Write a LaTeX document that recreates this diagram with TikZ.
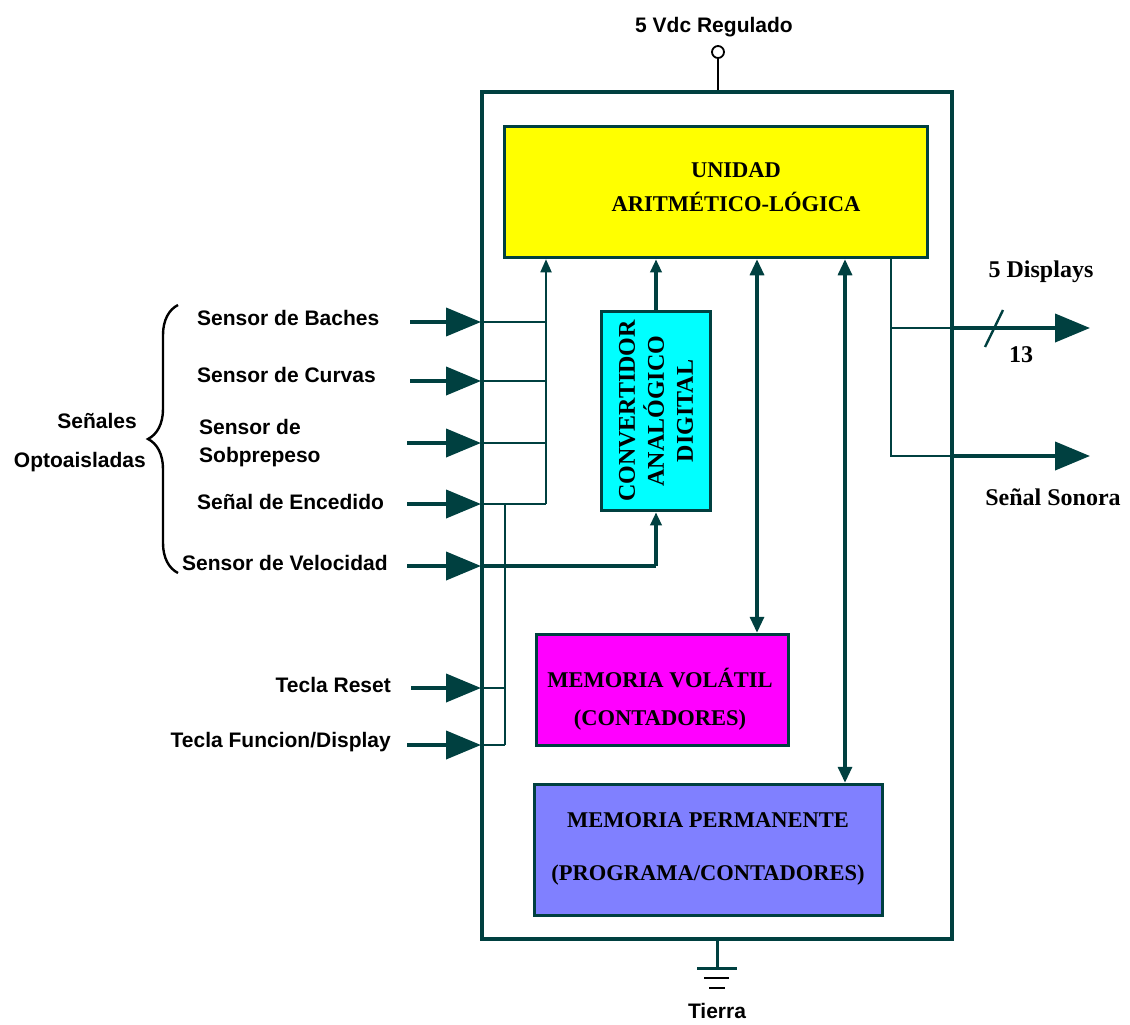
\documentclass[tikz,border=0pt]{standalone}
\usepackage{fontspec}
\setmainfont{Liberation Serif}
\setsansfont{Liberation Sans}
\usetikzlibrary{arrows.meta,decorations.pathreplacing}
\definecolor{wire}{RGB}{0,64,64}
\definecolor{aluyellow}{RGB}{255,255,0}
\definecolor{adccyan}{RGB}{0,255,255}
\definecolor{volmagenta}{RGB}{255,0,255}
\definecolor{permblue}{RGB}{128,128,255}
\begin{document}
\begin{tikzpicture}[x=1pt,y=-1pt,
  block/.style={draw=wire, line width=3.5pt, inner sep=0pt},
  blocktxt/.style={font=\fontsize{22.5}{34}\selectfont\bfseries, align=center, inner sep=0pt},
  sidetxt/.style={font=\sffamily\bfseries\fontsize{21}{28}\selectfont, inner sep=0pt, text height=15pt, text depth=4pt},
  outtxt/.style={font=\bfseries\fontsize{24}{28}\selectfont, inner sep=0pt},
  thinwire/.style={draw=wire, line width=1.8pt},
  buswire/.style={draw=wire, line width=3.2pt},
  inwire/.style={draw=wire, line width=4pt, -{Triangle[length=35pt,width=28pt]}},
  smalltip/.style={-{Triangle[length=13pt,width=11pt]}},
  bothtips/.style={{Triangle[length=16pt,width=14pt]}-{Triangle[length=16pt,width=14pt]}}]

\useasboundingbox (0,0) rectangle (1130,1025);

% enclosure and functional blocks
\node[block, fill=white, minimum width=470pt, minimum height=847pt] (mcu) at (717,515.5) {};
\node[block, fill=aluyellow, minimum width=423pt, minimum height=131pt] (alu) at (716,192) {};
\node[block, fill=adccyan, minimum width=109pt, minimum height=199pt] (adc) at (656,411) {};
\node[block, fill=volmagenta, minimum width=252pt, minimum height=111pt] (vol) at (662.5,690) {};
\node[block, fill=permblue, minimum width=348pt, minimum height=131pt] (perm) at (708.5,850) {};

\node[blocktxt] (alutxt) at (736,187) {UNIDAD\\ARITMÉTICO-LÓGICA};
\node[blocktxt, font=\fontsize{24}{29}\selectfont\bfseries, rotate=90] (adctxt) at (656,411) {CONVERTIDOR\\ANALÓGICO\\DIGITAL};
\node[blocktxt, font=\fontsize{22.5}{38}\selectfont\bfseries] (voltxt) at (660,699) {MEMORIA VOLÁTIL\\(CONTADORES)};
\node[blocktxt, font=\fontsize{22.5}{53}\selectfont\bfseries] (permtxt) at (708,849) {MEMORIA PERMANENTE\\(PROGRAMA/CONTADORES)};

% supply terminal and ground
\coordinate (vcc) at (718,52);
\node[sidetxt] (vcctxt) at (714,27) {5 Vdc Regulado};
\draw[line width=1.8pt] (mcu.north -| vcc) -- ([shift={(0,6)}]vcc);
\draw[line width=1.8pt] (vcc) circle[radius=6pt];

\coordinate (gnd) at (717,968);
\draw[draw=wire, line width=3pt] (mcu.south -| gnd) -- (gnd);
\draw[draw=wire, line width=3pt] ([shift={(-20,0)}]gnd) -- ([shift={(20,0)}]gnd);
\draw[line width=2.6pt] ([shift={(-13,10)}]gnd) -- ([shift={(12,10)}]gnd);
\draw[line width=2.6pt] ([shift={(-8,20)}]gnd) -- ([shift={(8,20)}]gnd);
\node[sidetxt] (gndtxt) at (717,1013) {Tierra};

% input labels
\node[sidetxt, anchor=west] (lbaches) at (197,320) {Sensor de Baches};
\node[sidetxt, anchor=west] (lcurvas) at (197,377) {Sensor de Curvas};
\node[sidetxt, anchor=west, align=left, text height=, text depth=] (lpeso) at (199,443) {Sensor de\\Sobprepeso};
\node[sidetxt, anchor=west] (lencend) at (197,504) {Señal de Encedido};
\node[sidetxt, anchor=west] (lveloc) at (182,565) {Sensor de Velocidad};
\node[sidetxt, anchor=east] (lreset) at (391,687) {Tecla Reset};
\node[sidetxt, anchor=east] (lfunc) at (391,742) {Tecla Funcion/Display};
\node[sidetxt, anchor=east] (lsenales) at (137,423) {Señales};
\node[sidetxt, anchor=east] (lopto) at (146,462) {Optoaisladas};
\draw[line width=2.4pt, decorate, decoration={brace, amplitude=30pt}] (178,573) -- (178,305);

% input wire start points and entry points on the enclosure
\coordinate (sB) at (410,322);  \coordinate (pB) at (481,322);
\coordinate (sC) at (410,381);  \coordinate (pC) at (481,381);
\coordinate (sP) at (407,443);  \coordinate (pP) at (481,443);
\coordinate (sE) at (407,504);  \coordinate (pE) at (481,504);
\coordinate (sV) at (407,566);  \coordinate (pV) at (481,566);
\coordinate (sR) at (411,688);  \coordinate (pR) at (481,688);
\coordinate (sF) at (407,745);  \coordinate (pF) at (481,745);

% internal digital input buses
\coordinate (dbus) at (546,504);
\coordinate (kbus) at (505,745);
\foreach \p in {pB,pC,pP,pE} \draw[thinwire] (\p) -- (\p -| dbus);
\draw[thinwire, smalltip] (dbus) -- (alu.south -| dbus);
\draw[thinwire] (pE -| kbus) -- (kbus);
\draw[thinwire] (pR) -- (pR -| kbus);
\draw[thinwire] (pF) -- (kbus);

% analog input to the converter
\draw[draw=wire, line width=4pt] (pV) -- (pV -| adc.south);
\draw[buswire, smalltip] (pV -| adc.south) -- (adc.south);
\draw[buswire, smalltip] (adc.north) -- (alu.south -| adc.north);

% input arrows
\foreach \s/\p in {sB/pB,sC/pC,sP/pP,sE/pE,sV/pV,sR/pR,sF/pF}
  \draw[inwire] (\s) -- (\p);

% memory buses
\coordinate (vbus) at (757,0);
\coordinate (pbus) at (845,0);
\draw[buswire, bothtips] (alu.south -| vbus) -- (vol.north -| vbus);
\draw[buswire, bothtips] (alu.south -| pbus) -- (perm.north -| pbus);

% outputs
\coordinate (obus) at (891,456);
\coordinate (oD) at (953,328);  \coordinate (eD) at (1090,328);
\coordinate (oS) at (953,456);  \coordinate (eS) at (1090,456);
\draw[thinwire] (alu.south -| obus) -- (obus) -- (oS);
\draw[thinwire] (oD -| obus) -- (oD);
\draw[inwire] (oD) -- (eD);
\draw[inwire] (oS) -- (eS);
\coordinate (slA) at (985,347);
\coordinate (slB) at (1003,310);
\draw[draw=wire, line width=2.4pt] (slA) -- (slB);
\node[outtxt] (ldisp) at (1041,272) {5 Displays};
\node[outtxt] (lbits) at (1021,355) {13};
\node[outtxt] (lsound) at (1053,497) {Señal Sonora};

\end{tikzpicture}
\end{document}
